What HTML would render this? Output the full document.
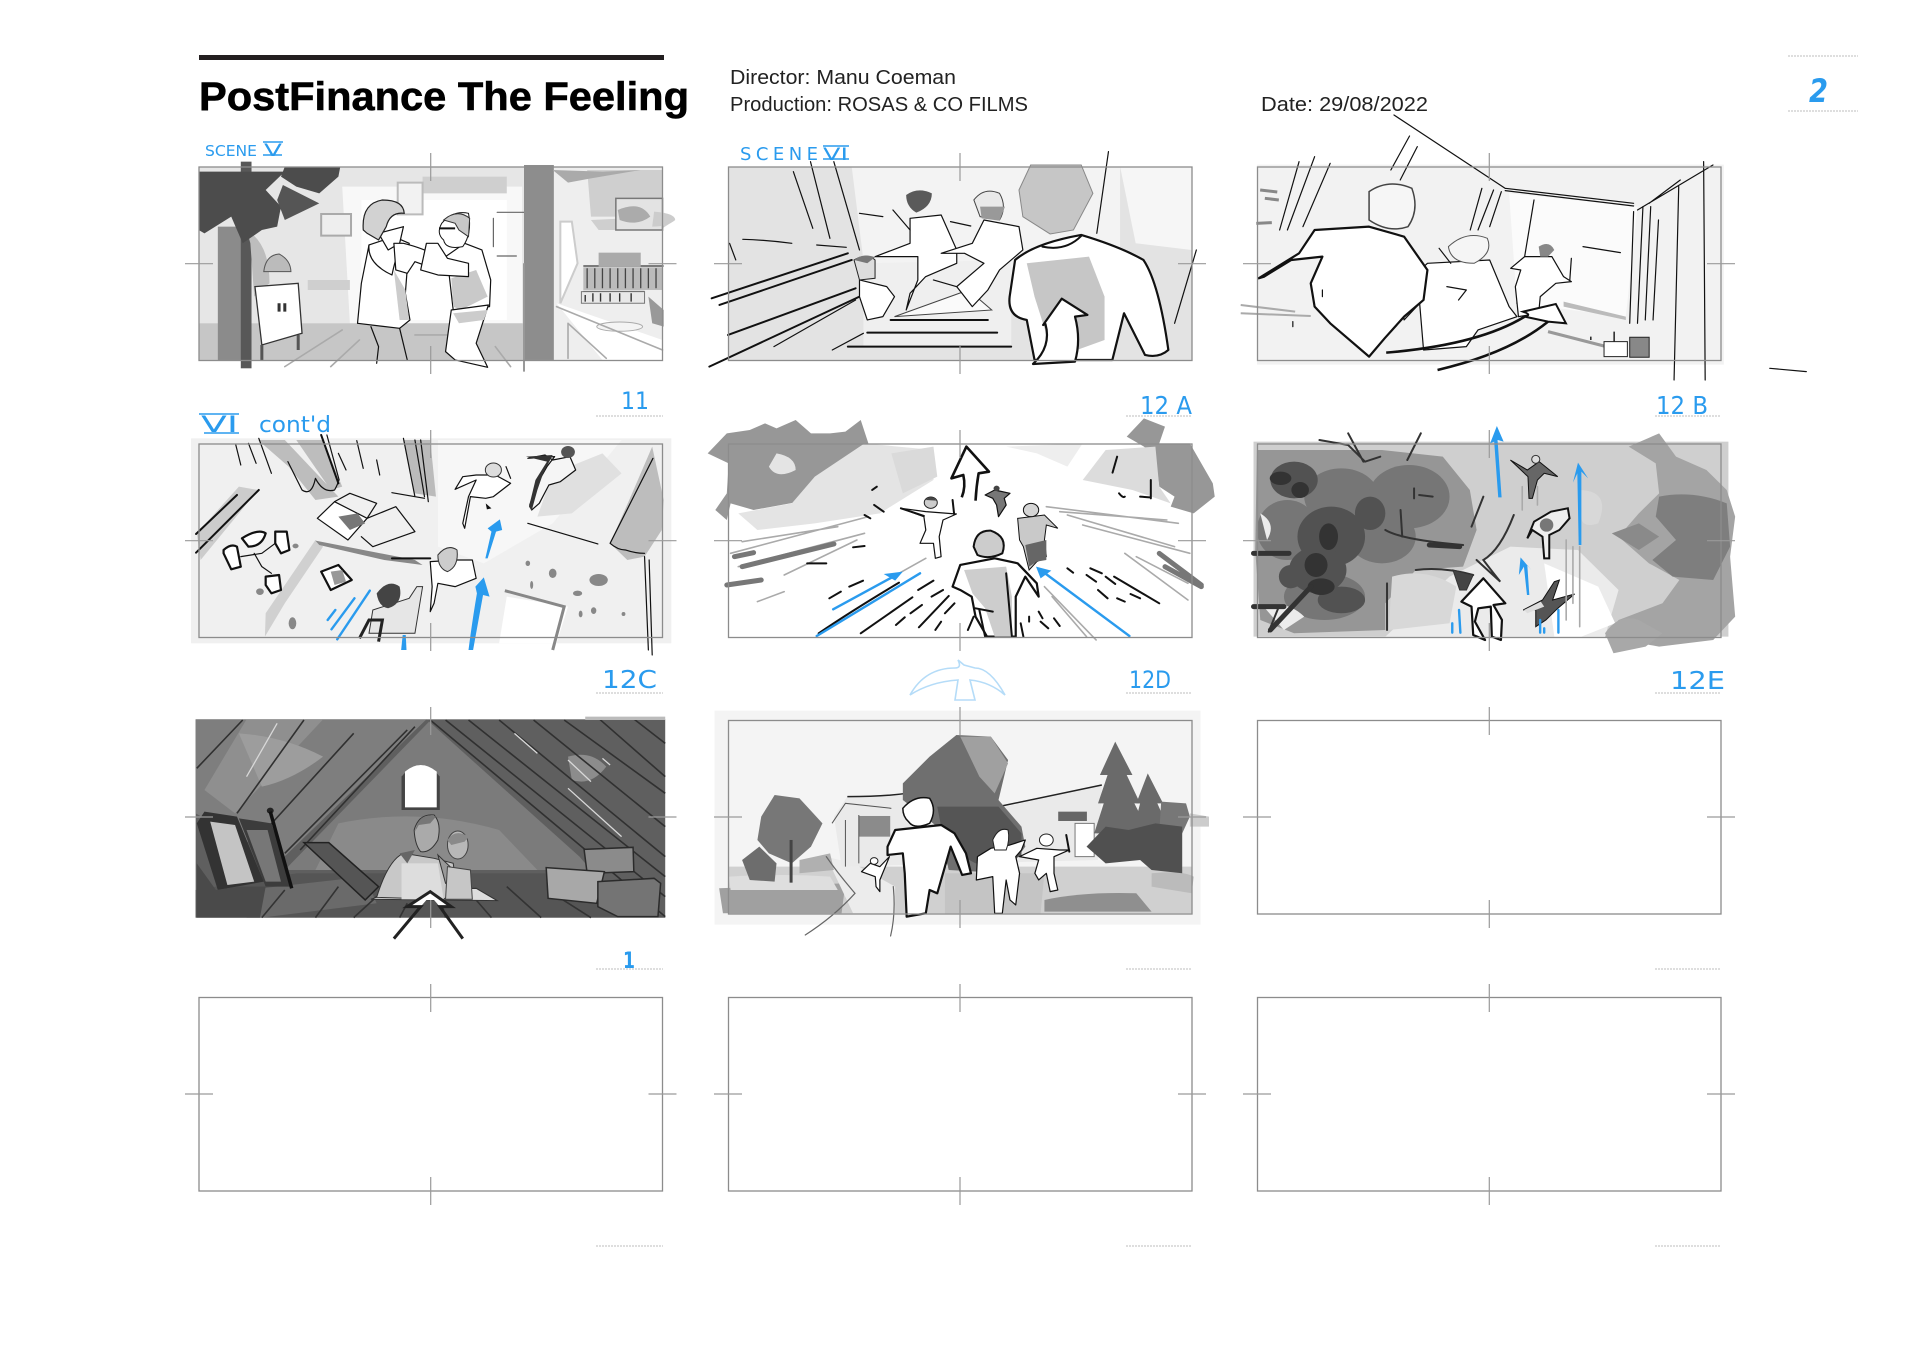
<!DOCTYPE html>
<html lang="en">
<head>
<meta charset="utf-8">
<title>PostFinance The Feeling storyboard</title>
<style>
html,body{margin:0;padding:0;background:#fff;width:1920px;height:1357px;overflow:hidden}
svg{display:block}
.art *{vector-effect:non-scaling-stroke}
.ln{fill:none;stroke:#111;stroke-width:1.2;stroke-linecap:round;stroke-linejoin:round}
.lb{fill:none;stroke:#111;stroke-width:2;stroke-linecap:round;stroke-linejoin:round}
.lg{fill:none;stroke:#aaa;stroke-width:1.6;stroke-linecap:round}
.ld{fill:none;stroke:#666;stroke-width:1.2;stroke-linecap:round}
.ol{fill:#fff;stroke:#111;stroke-width:1.2;stroke-linejoin:round}
.ob{fill:#fff;stroke:#111;stroke-width:2.2;stroke-linejoin:round}
.bl{fill:none;stroke:#2a9bee;stroke-width:2.4;stroke-linecap:round}
.bf{fill:#2a9bee}
.frame{fill:none;stroke:#8c8c8c;stroke-width:1.3}
.tick{stroke:#9a9a9a;stroke-width:1.2}
.cap{stroke:#c9c9c9;stroke-width:1.2;stroke-dasharray:2 1}
.hand{font-family:"DejaVu Sans","Liberation Sans",sans-serif;fill:#2a9bee}
.head{font-family:"Liberation Sans",sans-serif;fill:#222;font-size:20px}
</style>
</head>
<body>
<svg width="1920" height="1357" viewBox="0 0 1920 1357" xmlns="http://www.w3.org/2000/svg">
<rect width="1920" height="1357" fill="#fff"/>

<g>
<rect x="199" y="55" width="465" height="5" fill="#231f20"/>
<text x="199" y="110" font-family="Liberation Sans,sans-serif" font-weight="700" font-size="40" fill="#000" stroke="#000" stroke-width=".6" textLength="490" lengthAdjust="spacingAndGlyphs">PostFinance The Feeling</text>
<text class="head" x="730" y="84" textLength="226" lengthAdjust="spacingAndGlyphs">Director: Manu Coeman</text>
<text class="head" x="730" y="111" textLength="298" lengthAdjust="spacingAndGlyphs">Production: ROSAS &amp; CO FILMS</text>
<text class="head" x="1261" y="111" textLength="167" lengthAdjust="spacingAndGlyphs">Date: 29/08/2022</text>
<line class="cap" x1="1788" y1="56" x2="1858" y2="56"/>
<line class="cap" x1="1788" y1="111" x2="1858" y2="111"/>
<text class="hand" x="1809" y="102" font-size="32" font-style="italic" font-weight="700" textLength="19" lengthAdjust="spacingAndGlyphs">2</text>
</g>

<!-- PANEL 1 -->
<g class="art" transform="translate(170,30) scale(.3827,.3333)">
<rect x="75" y="410" width="1212" height="580" fill="#e6e6e6"/>
<path d="M450 470H920V880H470Z" fill="#f8f8f8"/>
<path d="M500 510H880V870H500Z" fill="#fff"/>
<rect x="75" y="880" width="850" height="110" fill="#c6c6c6"/>
<rect x="1000" y="410" width="287" height="580" fill="#eee"/>
<path d="M1010 820L1287 930V990H1130Z" fill="#fff"/>
<path d="M1090 420H1287V560H1100ZM1100 570L1290 560 1320 570 1280 600H1120Z" fill="#cfcfcf"/>
<path d="M360 750H470V780H360ZM660 440H880V490H660Z" fill="#cfcfcf"/>
<rect x="125" y="590" width="65" height="400" fill="#8b8b8b"/>
<rect x="185" y="395" width="28" height="620" fill="#585858"/>
<path d="M200 600Q260 640 260 760L220 800 210 640Z" fill="#bdbdbd"/>
<path d="M75 425H300L250 480 290 530 280 590 240 600 190 640 160 560 90 610 75 600ZM300 410H445L440 440 390 490 330 470 290 440Z" fill="#4c4c4c"/>
<path d="M295 465L390 520 300 570 280 510Z" fill="#555"/>
<path d="M245 725Q250 675 285 672 315 690 316 725Z" fill="#bbb" stroke="#555"/>
<path d="M222 770L335 760 345 910 240 945Z" fill="#fff" stroke="#333" stroke-width="1.3"/>
<path d="M285 820v25M300 820v25" stroke="#333" stroke-width="3"/>
<path d="M240 945V990M335 915V960" stroke="#555" stroke-width="3"/>
<rect x="395" y="552" width="78" height="65" fill="#eee" stroke="#aaa" stroke-width="2"/>
<rect x="595" y="458" width="65" height="95" fill="#f2f2f2" stroke="#bbb" stroke-width="2"/>
<path d="M300 1010L450 900M420 1010L495 930M640 915H730M850 950L890 1010" class="lg"/>
<path d="M855 547H930M845 565V650M855 678H905" class="ld"/>
<rect x="925" y="405" width="78" height="585" fill="#8d8d8d"/>
<path d="M925 700V1025" stroke="#999" stroke-width="2"/>
<path d="M1000 420L1130 425 1230 420 1100 445 1040 458Z" fill="#aaa"/>
<rect x="1165" y="505" width="122" height="95" fill="#e3e3e3" stroke="#777" stroke-width="1.5"/>
<path d="M1170 540Q1230 510 1255 560 1220 590 1175 570Z" fill="#ababab"/>
<path d="M1265 545Q1320 550 1320 570 1300 590 1260 590Z" fill="#ccc"/>
<path d="M1020 575L1050 575 1065 700 1020 820Z" fill="#fff" stroke="#ccc" stroke-width="2"/>
<rect x="1080" y="712" width="207" height="68" fill="#bbb"/>
<path d="M1090 715v60M1110 715v60M1130 715v60M1150 715v60M1170 715v60M1190 715v60M1210 715v60M1230 715v60M1250 715v60M1270 715v60" stroke="#444" stroke-width="1.3"/>
<path d="M1080 708H1290M1080 785H1240" stroke="#555" stroke-width="1.5"/>
<rect x="1120" y="668" width="110" height="42" fill="#aaa"/>
<rect x="1075" y="785" width="165" height="35" fill="#e8e8e8" stroke="#777"/>
<path d="M1085 795v20M1105 790v25M1125 790v25M1150 790v25M1175 790v25M1205 790v25" stroke="#333" stroke-width="1.4"/>
<ellipse cx="1175" cy="890" rx="60" ry="14" fill="#f4f4f4" stroke="#aaa"/>
<path d="M1040 880L1140 985M1040 880V985M1010 830L1287 960" class="lg"/>
<path d="M1250 800L1290 840V890L1260 880Z" fill="#999"/>
<g>
<path class="ol" d="M520 645L585 620 625 640 615 790 627 870 600 895 490 880 500 760Z"/>
<path d="M585 720L600 870 625 870 615 780Z" fill="#ccc"/>
<path class="ln" d="M520 645Q515 700 580 735 590 680 605 640"/>
<path class="ol" d="M545 610L610 590 600 640 570 660Z"/>
<path d="M505 600Q500 520 555 510 610 510 612 550 575 545 565 590L545 630 515 610Z" fill="#d2d2d2" stroke="#222" stroke-width="1.2"/>
<path class="ol" d="M610 640Q680 660 710 690L700 720 640 695 620 730 590 720 585 640Z"/>
<path class="ln" d="M525 890L545 950 540 1000M600 895L620 990"/>
</g>
<g>
<path class="ol" d="M720 680L770 640 815 660 838 750 835 830 740 840 730 740Z"/>
<path d="M735 745L800 720 830 800 760 840 740 830Z" fill="#c9c9c9"/>
<path class="ol" d="M655 720L670 640 700 640 725 685 780 700 780 740 700 735Z"/>
<path d="M710 580Q740 540 780 550 790 610 765 650 720 660 715 630 695 610 710 580Z" fill="#fff" stroke="#111"/>
<path d="M715 570Q750 535 783 565L780 620 755 600 745 580Z" fill="#c8c8c8" stroke="#333"/>
<path d="M703 595h42" stroke="#111" stroke-width="2"/>
<path class="ol" d="M735 840L832 825 800 940 830 1012 745 990 720 965Z"/>
<path d="M740 850L830 840 820 870 755 880Z" fill="#ccc"/>
</g>
</g>

<!-- PANEL 2 -->
<g class="art" transform="translate(700,30) scale(.778,.3333)">
<rect x="36" y="410" width="596" height="580" fill="#e3e3e3"/>
<path d="M195 410H540V720L420 800 210 690Z" fill="#f3f3f3"/>
<path d="M540 410H632V660L560 640Z" fill="#f6f6f6"/>
<path d="M210 700L400 690 400 950 210 950Z" fill="#efefef"/>
<path class="ln" d="M120 425L145 595M142 395L167 625M172 395L205 660M525 365L510 610M638 660L610 880M205 550L235 560M55 628Q85 630 118 640M322 575L348 588M150 645L188 652M38 640L46 690"/>
<path class="lb" d="M15 805L190 670M25 825L195 690M36 915L200 775M12 1010L205 800"/>
<path class="ln" d="M95 950L200 810M170 960L210 910"/>
<path class="lb" d="M190 950H400M215 908H382M245 870H370"/>
<path d="M250 860L345 780 375 840Z" fill="#fafafa" stroke="#444"/>
<g>
<path class="ol" d="M205 750L240 770 250 800 235 860 215 870 205 800Z"/>
<path d="M198 690Q215 668 225 690L225 745 205 750Z" fill="#ddd" stroke="#222"/>
<path d="M198 690Q210 668 225 682L215 700Z" fill="#777"/>
</g>
<g>
<path class="ol" d="M270 565L310 555 330 660 330 700 290 740 270 790 265 840 280 750 280 680 225 680 270 640Z"/>
<path d="M265 495Q280 470 298 490 298 530 278 548 265 530 265 495Z" fill="#5a5a5a"/>
<path class="ln" d="M248 540L270 600M300 750L330 770 340 780"/>
</g>
<g>
<path class="ol" d="M365 570L410 590 415 660 385 720 370 780 350 830 330 770 365 700 340 670 310 670 350 640Z"/>
<path d="M352 510Q365 470 385 490 395 530 385 570L360 560Z" fill="#e9e9e9" stroke="#444"/>
<path d="M360 530L392 530 385 572 362 565Z" fill="#999"/>
</g>
<g>
<path class="ob" d="M405 690Q430 640 490 615 540 650 570 690 590 760 602 960 590 985 572 975L545 850 530 990H430L420 870Q395 860 398 800Z"/>
<path d="M420 700L500 680 520 800 520 930 455 985 430 800Z" fill="#c6c6c6"/>
<path d="M425 405H490L505 490 480 600 450 612 415 560 410 480Z" fill="#c6c6c6" stroke="#888"/>
<path class="lb" d="M440 650Q470 665 490 618"/>
</g>
<path class="ob" d="M428 1002Q452 950 444 882L441 885 465 806 498 855 482 860Q490 930 482 995Z"/>
</g>

<!-- PANEL 3 -->
<g class="art" transform="translate(700,30) scale(.778,.3333)">
<rect x="716" y="404" width="600" height="600" fill="#f2f2f2"/>
<path d="M1040 490L1205 530 1190 860 1050 820Z" fill="#fbfbfb"/>
<path d="M1110 815L1190 860V870L1110 830Z" fill="#bbb"/>
<path class="ln" d="M770 395L745 600M790 380L755 600M810 400L775 590M912 318L888 420M922 350L900 450M892 255L1035 475M1035 475L1200 520M1035 482L1200 528M1005 475L990 600M1020 480L1000 600M1030 485L1015 590M1205 540L1302 405M1220 520L1260 450M1200 545L1195 880M1212 530L1205 880M1222 530L1215 870M1232 570L1225 870M1258 470L1252 1050M1290 395L1292 1050M1375 1015L1422 1025M1072 510L1050 820M1135 650L1183 668"/>
<path d="M720 480L742 486M726 505L744 510M715 580L735 578" stroke="#888" stroke-width="3"/>
<path d="M695 825L765 845M695 850L785 858" stroke="#aaa" stroke-width="2"/>
<path d="M1090 905L1165 950" stroke="#999" stroke-width="3"/>
<g>
<rect x="1162" y="935" width="30" height="45" fill="#fff" stroke="#222"/>
<rect x="1195" y="922" width="25" height="60" fill="#888" stroke="#222"/>
<path d="M1175 905v30M1145 920v10" stroke="#222" stroke-width="1.5"/>
</g>
<g>
<path class="ol" d="M1060 680L1095 680 1110 740 1120 755 1100 760 1080 800 1078 850 1052 860 1048 770 1055 720 1042 715Z"/>
<path d="M1078 650Q1092 630 1098 660L1090 680 1080 680Z" fill="#888"/>
<path class="ln" d="M1120 685L1118 750"/>
</g>
<g>
<path class="ol" d="M935 700L1015 690 1040 830 1050 860 1000 900 985 950 930 960 925 820 905 870 898 780Z"/>
<path d="M962 650Q985 600 1012 625 1020 670 995 700 965 700 962 650Z" fill="#f5f5f5" stroke="#555"/>
<path class="ln" d="M950 655L965 700M960 770L985 780 975 810"/>
</g>
<g>
<path class="ob" d="M790 600L860 590 905 620 935 720 930 810 905 860 880 925 860 980 810 880 790 830 785 760 800 680 760 690 725 740 718 745 770 670Z"/>
<path d="M860 485Q885 445 915 475 925 540 910 590 885 610 860 570Z" fill="#f6f6f6" stroke="#444" stroke-width="1.5"/>
<path class="ln" d="M800 780V800M762 875V890"/>
</g>
<path d="M882 968Q1000 945 1060 860" fill="none" stroke="#111" stroke-width="2.6"/>
<path d="M948 1020Q1040 970 1090 875" fill="none" stroke="#111" stroke-width="2.6"/>
<path d="M1060 860Q1070 855 1058 845L1100 822 1113 880 1090 875 1060 860Z" fill="#fff" stroke="#111" stroke-width="2"/>
</g>

<!-- PANEL 4 -->
<g class="art" transform="translate(170,390) scale(.3827,.3333)">
<rect x="55" y="145" width="1255" height="615" fill="#f0f0f0"/>
<path d="M700 150H1180L1000 400 820 520 700 470Z" fill="#f7f7f7"/>
<path d="M880 620L1040 650 1010 760H860Z" fill="#fff"/>
<path d="M70 430L180 290 230 300 80 510Z" fill="#ccc"/>
<path d="M230 150L300 150 440 320 380 330 310 230ZM330 150H400L450 290 420 300Z" fill="#bdbdbd"/>
<path d="M610 150H680L695 320 640 310Z" fill="#bbb"/>
<path d="M1260 170L1290 330 1285 420 1240 500 1195 510 1150 460 1200 330Z" fill="#bdbdbd"/>
<path d="M1000 250L1130 190 1180 250 1050 370 960 380Z" fill="#e0e0e0"/>
<path d="M380 450L250 670 248 740 300 640 400 470Z" fill="#d0d0d0"/>
<path d="M380 452L640 510 660 525 560 510 390 465Z" fill="#888"/>
<path class="ln" d="M172 165L185 225M205 160L225 220M232 145L265 250M308 215L345 300Q370 320 380 265 400 310 430 300 440 280 440 270M395 135L440 280M410 135L442 270M440 190L460 240M488 152L505 235M540 210L548 255M610 145L640 320M640 150L665 320M655 150L675 335M580 308L665 325M68 432L175 315M68 488L232 300M935 400L1118 462M1150 460Q1170 480 1190 480 1215 490 1240 490M1150 460L1262 205M1240 500L1250 780M1252 510L1260 795"/>
<path class="lb" d="M395 135L440 280M68 432L175 315M68 488L232 300"/>
<g>
<path class="ol" d="M385 385L430 335 515 385 465 450Z"/>
<path class="ln" d="M430 335L470 310 540 340 515 385M515 385L590 350 640 425 530 470 500 440"/>
<path d="M440 380L490 370 510 400 470 420Z" fill="#777"/>
</g>
<g>
<path class="ob" d="M140 480Q160 460 175 470L185 530 160 538 140 490ZM275 425L305 425 312 480 290 490 275 460ZM250 560L285 555 290 600 265 610 250 585ZM188 445Q230 415 250 430 240 470 205 470Z"/>
<path class="ln" d="M185 500L240 490 275 460M220 490L240 530 265 550"/>
</g>
<path class="ob" d="M395 545L440 525 475 570 420 600Z"/>
<path d="M420 545L450 540 460 575 430 585Z" fill="#999"/>
<g fill="#888">
<ellipse cx="935" cy="520" rx="6" ry="8"/><ellipse cx="1000" cy="550" rx="10" ry="14"/><ellipse cx="1120" cy="570" rx="24" ry="18"/><ellipse cx="945" cy="585" rx="4" ry="12"/><ellipse cx="1065" cy="610" rx="12" ry="8"/><ellipse cx="1073" cy="672" rx="5" ry="10"/><ellipse cx="1107" cy="662" rx="7" ry="10"/><ellipse cx="1185" cy="672" rx="5" ry="6"/><ellipse cx="320" cy="700" rx="10" ry="18"/><ellipse cx="235" cy="605" rx="10" ry="10"/><ellipse cx="328" cy="468" rx="8" ry="7"/>
</g>
<path d="M875 602L1030 650 1000 780" fill="none" stroke="#888" stroke-width="3"/>
<g>
<path class="ol" d="M1000 210L1045 200 1060 240 1020 275 990 285 965 340 945 360 940 345 960 280 985 230 1005 200 935 205 980 195Z" style="fill:#f5f5f5"/>
<path d="M930 200L1000 195 975 250 960 300 945 362 938 350 955 270 985 215Z" fill="#333"/>
<circle cx="1040" cy="186" r="18" fill="#555"/>
</g>
<g>
<path class="ol" d="M800 255L850 255 890 280 845 320 825 325 785 320 770 415 765 400 780 320 800 270 745 298 765 260Z"/>
<circle cx="845" cy="240" r="21" fill="#ddd" stroke="#333"/>
<path class="ln" d="M878 230L890 265"/>
<path d="M825 340l15 15-12 3z" fill="#111"/>
</g>
<g>
<path class="ol" d="M680 515L750 510 790 510 800 565 745 590 700 580 690 640 680 665 685 590Z"/>
<path d="M700 495Q725 460 750 480 755 530 725 545 700 535 700 495Z" fill="#ccc" stroke="#333"/>
<path class="lb" d="M580 505L680 505"/>
</g>
<g>
<path d="M530 660L625 625 645 590 660 590 640 730H520Z" fill="#e6e6e6" stroke="#333"/>
<path d="M540 610Q570 565 600 590 610 640 570 655 545 650 540 610Z" fill="#444"/>
<path d="M495 745L520 690 555 690 545 755" fill="none" stroke="#222" stroke-width="3"/>
</g>
<path class="bl" stroke-width="3" d="M412 690L432 660M422 718L482 625M437 748L522 602"/>
<path class="bf" d="M824 505L840 425 830 415 862 388 868 420 852 425 830 505Z"/>
<path class="bf" d="M780 780Q790 690 802 610L798 590 820 562 835 620 818 615 792 780Z"/>
<path class="bf" d="M604 780L608 735H616L618 780Z"/>
</g>

<!-- PANEL 5 -->
<g class="art" transform="translate(700,390) scale(.3827,.3333)">
<rect x="75" y="160" width="1210" height="580" fill="#fff"/>
<path d="M20 190L70 130 130 120 170 100 200 115 250 90 290 130 340 130 380 125 420 90 440 160 430 220 360 320 260 335 140 360 80 340 70 390 40 360 70 310 75 220Z" fill="#979797"/>
<path d="M200 190Q250 200 250 240 200 270 180 230ZM300 260L430 160 610 180 610 270 470 370 300 400 150 420 100 370 240 340Z" fill="#e4e4e4"/>
<path d="M500 190L610 170 620 260 530 310Z" fill="#dadada"/>
<path d="M800 170L1000 160 960 230 880 190Z" fill="#eee"/>
<path d="M1115 140L1160 85 1215 110 1200 160 1280 160 1340 280 1345 320 1290 370 1230 350 1240 320 1200 290 1190 200 1160 170Z" fill="#979797"/>
<path d="M1000 270L1060 180 1190 170 1200 290 1230 340 1130 300Z" fill="#dcdcdc"/>
<path class="lg" stroke-width="2" d="M80 490L440 380M110 455L360 410M100 530L430 430M220 555L410 450M150 635L220 605M905 350L1250 400M940 365L1220 390M1000 405L1280 490M960 375L1240 470M1110 490L1275 630M1140 500L1275 580M900 590L1035 750M920 620L1010 740M520 550L590 505"/>
<path d="M90 500L140 488M110 530L350 462M70 585L160 570M1200 490L1310 585M1215 530L1310 590" stroke="#777" stroke-width="5" fill="none" stroke-linecap="round"/>
<path class="lb" d="M455 345L480 365M400 472L430 468M280 520L330 520M430 375L445 385M1095 310Q1105 325 1110 320M1150 320L1175 322M1178 270V325M1090 200L1078 248M450 300L462 290"/>
<path class="lb" d="M338 625L368 605M390 590L426 572M960 535L975 548M1020 535L1050 550M1010 555L1035 575M1060 560L1085 582M1040 600L1065 625M1090 625L1110 635M1125 612L1150 625M1082 560L1200 640M512 705L535 682M550 670L580 645M420 730L555 622M572 712L650 618M615 720L630 695M640 670L665 640M570 600L610 572M605 620L635 600M860 680V695M885 665L895 685M890 695L910 715M925 685L940 708M838 700L845 740M700 720L715 680"/>
<path class="lb" d="M310 730Q400 660 520 578"/>
<path class="bl" stroke-width="3" d="M305 738L575 550M348 658L505 560M1122 738L890 540"/>
<path class="bf" d="M480 552L530 545 510 572Z"/>
<path class="bf" d="M878 530L918 542 890 565Z"/>
<path fill="#fff" stroke="#111" stroke-width="2.6" stroke-linejoin="round" d="M684 322Q695 290 688 255L657 265 696 170 755 245 728 250Q722 290 720 332"/>
<g>
<path class="ol" d="M745 315L770 300 810 310 795 325 800 345 780 380 775 345 765 325Z" style="fill:#777"/>
<circle cx="775" cy="295" r="8" fill="#444"/>
</g>
<g>
<path class="ol" d="M525 355L590 365 670 372 635 390 625 440 630 500 615 505 610 460 575 460 590 420 585 380Z"/>
<circle cx="603" cy="338" r="17" fill="#ccc" stroke="#222"/>
<path d="M590 330Q603 312 618 332Z" fill="#444"/>
<path class="lb" d="M660 330L664 372M525 355L585 378"/>
</g>
<g>
<path d="M830 385L900 375 935 415 905 405 900 450 905 500 880 515 860 540 845 470 835 450Z" fill="#c9c9c9" stroke="#111"/>
<circle cx="865" cy="360" r="20" fill="#d5d5d5" stroke="#111"/>
<path d="M850 465L905 450 905 510 880 515 860 530Z" fill="#666"/>
</g>
<g>
<path class="ob" d="M680 525L770 505 830 520 880 580 885 620 850 560 825 620 825 740 750 740 720 680 710 620 680 600 660 590Z" stroke-width="2"/>
<path d="M690 540L800 530 815 620 815 740 770 740 745 655 712 610Z" fill="#cdcdcd"/>
<path d="M715 470Q720 420 760 422 805 440 790 490 755 510 725 495Z" fill="#ccc" stroke="#111" stroke-width="2"/>
<path class="lb" d="M720 655L765 665M730 660L745 740M800 550L815 740"/>
</g>
</g>

<!-- BIRD -->
<path d="M910 695Q925 668 955 668 962 668 958 660L964 665 975 668Q990 668 1005 695 990 682 970 680L975 700 955 700 958 680Q930 682 910 695Z" fill="none" stroke="#b5dcf8" stroke-width="1.6"/>

<!-- PANEL 6 -->
<g class="art" transform="translate(1240,390) scale(.338,.3333)">
<rect x="40" y="155" width="1405" height="585" fill="#cfcfcf"/>
<path d="M430 740L620 560 800 470 1000 480 1120 600 1080 740Z" fill="#ebebeb"/>
<path d="M900 520L1060 590 1110 700 1010 740 930 740Z" fill="#fff"/>
<path d="M1000 300Q1100 300 1060 400 1000 420 1010 360Z" fill="#d8d8d8"/>
<g>
<path d="M50 180H420L600 200 680 300 700 420 660 530 520 540 430 640 430 720 160 730 60 690 45 480Z" fill="#969696"/>
<g fill="#767676">
<ellipse cx="300" cy="320" rx="110" ry="85"/><ellipse cx="500" cy="320" rx="120" ry="95"/><ellipse cx="140" cy="420" rx="90" ry="90"/><ellipse cx="420" cy="440" rx="100" ry="80"/><ellipse cx="250" cy="620" rx="120" ry="70"/>
</g>
<g fill="#525252">
<ellipse cx="160" cy="270" rx="70" ry="55"/><ellipse cx="270" cy="440" rx="100" ry="90"/><ellipse cx="385" cy="370" rx="45" ry="50"/><ellipse cx="230" cy="540" rx="85" ry="70"/><ellipse cx="300" cy="630" rx="70" ry="40"/><ellipse cx="150" cy="560" rx="35" ry="35"/>
</g>
<g fill="#333">
<ellipse cx="120" cy="265" rx="32" ry="20"/><ellipse cx="178" cy="300" rx="26" ry="24"/><ellipse cx="262" cy="440" rx="28" ry="40"/><ellipse cx="225" cy="525" rx="34" ry="36"/><ellipse cx="240" cy="590" rx="40" ry="25"/>
</g>
<path d="M60 370Q110 400 80 450ZM70 650Q140 630 190 680L130 720Z" fill="#ececec"/>
<path d="M450 560Q550 530 640 590L620 700 440 720Z" fill="#d8d8d8"/>
</g>
<g fill="none" stroke="#333" stroke-linecap="round">
<path stroke-width="2" d="M235 150L320 165 370 215 415 200M320 130L365 215M535 130L495 210M115 650L85 725M430 420Q480 450 660 465M475 360L480 440M520 540Q600 530 690 555M435 580V720"/>
<path stroke-width="5" d="M40 490L145 490M40 650L130 650M210 590L90 720M560 465L650 470"/>
<path d="M630 540L690 555 670 600 650 600Z" fill="#444"/>
<path d="M515 295V325M530 315L570 320M720 320L685 410M810 375Q770 480 720 510 750 550 770 575L700 510" stroke-width="2"/>
</g>
<g>
<path d="M1150 170L1240 130 1290 200 1380 240 1440 300 1465 380 1450 500 1465 680 1400 750 1240 770 1080 740 1120 690 1250 640 1300 570 1210 520 1120 440 1180 370 1240 310 1230 220Z" fill="#a4a4a4"/>
<path d="M1240 320Q1340 300 1440 340L1450 470 1400 570 1280 560 1220 510 1290 450 1230 380Z" fill="#7e7e7e"/>
<path d="M1100 430L1180 400 1240 440 1180 480Z" fill="#8a8a8a"/>
<path d="M1080 730Q1120 670 1180 690L1250 730 1200 770 1105 790Z" fill="#a8a8a8"/>
</g>
<g>
<path d="M800 210L850 240 885 215 940 260 900 250 880 270 865 325 855 325 852 260Z" fill="#666" stroke="#111"/>
<circle cx="875" cy="208" r="12" fill="#ddd" stroke="#333"/>
</g>
<g>
<path d="M850 445L870 395 920 365 970 355 975 385 945 420 915 435 915 505 900 505 895 440 865 420Z" fill="#eee" stroke="#111" stroke-width="2"/>
<circle cx="907" cy="405" r="20" fill="#777"/>
</g>
<g>
<path d="M838 660L895 630 930 575 945 570 925 630 990 612 940 655 905 690 875 710 875 660Z" fill="#555" stroke="#111"/>
<path d="M840 660L890 635 900 650 850 670Z" fill="#ddd"/>
</g>
<path class="lg" stroke="#999" d="M835 290V360M880 290V345M965 450V690M985 470V640M1005 470V710"/>
<path class="bf" d="M764 322L752 155 740 160 760 108 780 155 762 150 774 322Z"/>
<path class="bf" d="M1002 465L998 250 985 278 1000 218 1030 265 1010 245 1010 465Z"/>
<path class="bf" d="M849 615L840 530 825 555 830 502 862 540 850 525 856 615Z"/>
<path class="bl" d="M648 660L652 728M628 700V728M888 690V728M942 660V728M900 715V728"/>
<path class="ob" stroke-width="3.5" d="M720 565L785 640 750 645 775 690 772 750 745 740 742 650 705 655 695 695 725 750 690 735 685 650 655 635Z"/>
</g>

<!-- PANEL 7 -->
<g class="art" transform="translate(170,690) scale(.3827,.3333)">
<rect x="67" y="88" width="1227" height="595" fill="#5f5f5f"/>
<path d="M67 88H670L290 510 67 370Z" fill="#7e7e7e"/>
<path d="M200 88L400 88 170 370 90 300Z" fill="#8f8f8f"/>
<path d="M180 130Q300 140 400 200 320 270 240 290 170 220Z" fill="#9d9d9d"/>
<path d="M677 95L1070 500 1100 540H300Z" fill="#7b7b7b"/>
<path d="M440 400Q650 350 860 420L960 540H380Z" fill="#8a8a8a"/>
<path d="M1040 200Q1100 180 1140 230 1100 290 1050 270Z" fill="#8c8c8c"/>
<path d="M67 600L330 550H980L1294 680V683H67Z" fill="#555"/>
<path d="M200 600L510 560 540 640 240 683H200Z" fill="#6a6a6a"/>
<g fill="none" stroke="#303030" stroke-width="1.6">
<path d="M70 235L190 90M175 370L350 90M250 420L480 130M300 490L620 120M340 480L640 110M680 90L1294 680M720 90L1294 620M780 90L1294 560M860 90L1294 500M950 90L1294 410M1030 90L1294 310M1120 85L1294 260M1210 85L1294 160"/>
<path d="M240 683L300 600M380 683L440 590M480 683L540 620M600 683L620 640M720 683L710 640M840 683L800 630M970 683L880 590M1100 683L1000 610" stroke="#333"/>
</g>
<path d="M1085 80H1294V90H1085Z" fill="#bbb"/>
<g stroke="#d8d8d8" stroke-width="1.3"><path d="M900 130L960 190M1040 210L1100 275M1040 295L1180 440M1130 205L1150 225M200 260L280 100"/></g>
<g>
<path d="M605 360V260Q655 190 705 260V360Z" fill="#444"/>
<path d="M614 352V245Q655 205 697 245V352Z" fill="#fff"/>
</g>
<g>
<path d="M70 400L90 365 175 380 245 575 125 600Z" fill="#333"/>
<path d="M105 395L170 405 220 575 150 585Z" fill="#c4c4c4"/>
<path d="M180 385L265 400 320 590 250 590Z" fill="#3c3c3c"/>
<path d="M200 420L255 420 290 575 250 575Z" fill="#777"/>
<circle cx="262" cy="362" r="9" fill="#222"/>
<path d="M262 365L318 595" stroke="#111" stroke-width="3.5"/>
<path d="M70 520L120 600 180 590 250 590 235 683H70Z" fill="#4a4a4a"/>
</g>
<path d="M350 458L415 458 545 590 510 630Z" fill="#555" stroke="#222" stroke-width="1.5"/>
<path d="M525 628L590 600 800 595 855 632Z" fill="#ddd" stroke="#333"/>
<g>
<path d="M540 622Q570 510 610 490L690 505 740 520 750 600 715 628Z" fill="#c8c8c8" stroke="#333"/>
<path d="M605 520L700 520 715 628 605 628Z" fill="#ddd"/>
<path d="M638 420Q650 370 690 375 710 400 700 450 680 490 655 485 640 465 638 420Z" fill="#aaa" stroke="#333"/>
<path d="M640 425Q650 365 695 380L680 400 650 405Z" fill="#777"/>
<path d="M700 495L750 550 755 600 720 580Z" fill="#999" stroke="#333"/>
<path d="M600 490L640 480 620 520Z" fill="#666"/>
</g>
<g>
<path d="M725 530L785 540 790 628H720Z" fill="#c6c6c6" stroke="#444"/>
<ellipse cx="752" cy="465" rx="27" ry="42" fill="#b8b8b8" stroke="#444"/>
<path d="M725 450Q745 415 780 440L770 455 735 465Z" fill="#8a8a8a"/>
</g>
<g stroke="#2b2b2b" stroke-width="1.5">
<path d="M1082 478L1210 472 1212 545 1090 550Z" fill="#8b8b8b"/>
<path d="M983 533L1135 545 1115 640 988 625Z" fill="#a8a8a8"/>
<path d="M1118 575L1265 565 1282 580 1275 680 1170 680 1118 650Z" fill="#747474"/>
</g>
<path d="M620 650L680 605 735 650 705 650 690 630 670 630 655 650Z" fill="#fff"/>
<g fill="none" stroke="#222">
<path d="M585 746L655 650 620 650 680 605 735 650 705 650 765 746" stroke-width="3"/>
</g>
</g>

<!-- PANEL 8 -->
<g class="art" transform="translate(700,660) scale(.3827,.3333)">
<rect x="38" y="152" width="1270" height="642" fill="#f4f4f4"/>
<path d="M75 620H1285V760H75Z" fill="#d0d0d0"/>
<path d="M50 685L380 670 370 760H60Z" fill="#a0a0a0"/>
<path d="M75 650Q220 640 340 650L360 690 80 690Z" fill="#dedede"/>
<path d="M900 720Q1000 695 1140 700L1180 755H900Z" fill="#8f8f8f"/>
<path d="M330 590L400 610 510 680 510 760 400 760Z" fill="#ececec"/>
<path d="M640 640H900L890 760H640Z" fill="#c4c4c4"/>
<path d="M1180 640Q1260 630 1290 650L1285 700 1180 680Z" fill="#bbb"/>
<g>
<path d="M350 470L385 410 560 400 800 440 1050 375 1040 600 370 620Z" fill="#eaeaea"/>
<path d="M385 410Q480 410 540 400M780 440L1050 375" stroke="#222" stroke-width="1.5" fill="none"/>
<rect x="415" y="468" width="82" height="62" fill="#8b8b8b"/>
<rect x="936" y="455" width="75" height="28" fill="#666"/>
<path d="M345 490L380 430 500 445M380 480V620M415 465V610" stroke="#555" fill="none"/>
<rect x="980" y="490" width="50" height="100" fill="#fff" stroke="#777"/>
</g>
<g>
<path d="M530 370L600 290 670 225 760 230 805 300 780 420 840 500 850 560 800 640 650 630 620 500 530 420Z" fill="#6f6f6f"/>
<path d="M680 230L760 230 805 310 770 400 730 350Z" fill="#a0a0a0"/>
<path d="M620 440L780 440 840 520 840 590 720 610 640 560Z" fill="#555"/>
</g>
<g>
<path d="M160 470L195 405 260 415 300 465 320 490 290 560 240 610 180 580 150 540Z" fill="#777"/>
<path d="M110 600L155 560 200 610 195 665 130 660Z" fill="#6d6d6d"/>
<path d="M238 540V668" stroke="#444" stroke-width="3"/>
<path d="M260 600L340 580 350 630 260 640Z" fill="#b0b0b0"/>
</g>
<g>
<path d="M1085 245L1130 345 1115 345 1150 430 1135 430 1175 520 1030 520 1055 430 1040 430 1065 345 1045 345Z" fill="#6a6a6a"/>
<path d="M1170 340L1210 430 1195 430 1230 520 1130 520 1150 430 1140 430Z" fill="#6a6a6a"/>
<path d="M1205 425L1270 430 1280 470 1260 520 1200 520Z" fill="#777"/>
<path d="M1010 560L1060 500 1120 510 1190 490 1260 500 1260 640 1180 630 1150 600 1060 610Z" fill="#505050"/>
<path d="M1280 460L1330 470 1330 500 1280 500Z" fill="#ccc"/>
</g>
<path class="ld" d="M330 590Q360 640 405 700 350 770 275 825M505 680Q512 760 498 828"/>
<g>
<path class="ol" d="M422 635L445 610 470 620 495 590 470 660 470 695 460 680 458 650Z"/>
<circle cx="455" cy="603" r="10" fill="#fff" stroke="#222"/>
</g>
<g>
<path class="ob" d="M510 510L630 495 665 520 695 580 708 640 685 645 655 560 630 660 620 700 600 690 590 760 540 770 535 640 530 580 490 585 490 560Z" stroke-width="1.4"/>
<path d="M530 445Q560 405 600 415 620 450 600 490 560 510 545 485 530 470 530 445Z" fill="#fff" stroke="#111" stroke-width="1.5"/>
</g>
<g>
<path class="ol" d="M760 565L810 555 850 540 840 570 825 590 835 640 825 735 810 720 800 660 790 760 770 760 765 650 722 660 725 590Z"/>
<path d="M765 540Q780 500 805 510 810 540 800 570H770Z" fill="#fff" stroke="#222"/>
</g>
<g>
<path class="ol" d="M880 565L940 570 965 570 925 590 925 640 935 690 915 695 905 640 885 660 875 640 885 600 835 590Z"/>
<circle cx="905" cy="540" r="18" fill="#fff" stroke="#222"/>
<path class="lb" d="M957 525L965 575"/>
</g>
</g>

<!-- FRAMES -->
<g>
<g><rect class="frame" x="199" y="167" width="463.5" height="193.5"/><path class="tick" d="M430.7 153v28M430.7 346v28M185 263.7h28M648.5 263.7h28"/></g>
<g><rect class="frame" x="728.5" y="167" width="463.5" height="193.5"/><path class="tick" d="M960 153v28M960 346v28M714 263.7h28M1178 263.7h28"/></g>
<g><rect class="frame" x="1257.5" y="167" width="463.5" height="193.5"/><path class="tick" d="M1489.3 153v28M1489.3 346v28M1243 263.7h28M1707 263.7h28"/></g>
<g><rect class="frame" x="199" y="444" width="463.5" height="193.5"/><path class="tick" d="M430.7 430v28M430.7 623v28M185 540.7h28M648.5 540.7h28"/></g>
<g><rect class="frame" x="728.5" y="444" width="463.5" height="193.5"/><path class="tick" d="M960 430v28M960 623v28M714 540.7h28M1178 540.7h28"/></g>
<g><rect class="frame" x="1257.5" y="444" width="463.5" height="193.5"/><path class="tick" d="M1489.3 430v28M1489.3 623v28M1243 540.7h28M1707 540.7h28"/></g>
<g><path class="tick" d="M430.7 707v28M430.7 900v28M185 817h28M648.5 817h28"/></g>
<g><rect class="frame" x="728.5" y="720.5" width="463.5" height="193.5"/><path class="tick" d="M960 707v28M960 900v28M714 817h28M1178 817h28"/></g>
<g><rect class="frame" x="1257.5" y="720.5" width="463.5" height="193.5"/><path class="tick" d="M1489.3 707v28M1489.3 900v28M1243 817h28M1707 817h28"/></g>
<g><rect class="frame" x="199" y="997.5" width="463.5" height="193.5"/><path class="tick" d="M430.7 984v28M430.7 1177v28M185 1094h28M648.5 1094h28"/></g>
<g><rect class="frame" x="728.5" y="997.5" width="463.5" height="193.5"/><path class="tick" d="M960 984v28M960 1177v28M714 1094h28M1178 1094h28"/></g>
<g><rect class="frame" x="1257.5" y="997.5" width="463.5" height="193.5"/><path class="tick" d="M1489.3 984v28M1489.3 1177v28M1243 1094h28M1707 1094h28"/></g>
</g>

<!-- CAPTION RULES -->
<g>
<path class="cap" d="M596 416H663M1126 416H1192M1655 416H1721M596 693H663M1126 693H1192M1655 693H1721M596 969H663M1126 969H1192M1655 969H1721M596 1246H663M1126 1246H1192M1655 1246H1721"/>
</g>

<!-- HANDWRITTEN LABELS -->
<g>
<text class="hand" x="205" y="156" font-size="15" textLength="52" lengthAdjust="spacingAndGlyphs">SCENE</text>
<text class="hand" x="264" y="156" font-size="17" textLength="18" lengthAdjust="spacingAndGlyphs">V</text>
<path d="M263 142H283M263 155H282" stroke="#2a9bee" stroke-width="1.5"/>
<text class="hand" x="740" y="160" font-size="18" textLength="78" lengthAdjust="spacing">SCENE</text>
<text class="hand" x="823" y="160" font-size="17" textLength="25" lengthAdjust="spacingAndGlyphs">VI</text>
<path d="M823 146H849M823 159H849" stroke="#2a9bee" stroke-width="1.5"/>
<text class="hand" x="201" y="432" font-size="22" textLength="37" lengthAdjust="spacingAndGlyphs">VI</text>
<path d="M199 414H239M204 433H239" stroke="#2a9bee" stroke-width="1.5"/>
<text class="hand" x="259" y="432" font-size="22" textLength="72" lengthAdjust="spacingAndGlyphs">cont'd</text>
<text class="hand" x="621" y="409" font-size="24" textLength="28" lengthAdjust="spacingAndGlyphs">11</text>
<text class="hand" x="1140" y="414" font-size="25" textLength="52" lengthAdjust="spacingAndGlyphs">12 A</text>
<text class="hand" x="1656" y="414" font-size="25" textLength="52" lengthAdjust="spacingAndGlyphs">12 B</text>
<text class="hand" x="602" y="688" font-size="25" textLength="55" lengthAdjust="spacingAndGlyphs">12C</text>
<text class="hand" x="1129" y="688" font-size="24" textLength="42" lengthAdjust="spacingAndGlyphs">12D</text>
<text class="hand" x="1670" y="689" font-size="25" textLength="55" lengthAdjust="spacingAndGlyphs">12E</text>
<text class="hand" x="623" y="968" font-size="22" font-weight="700" textLength="12" lengthAdjust="spacingAndGlyphs">1</text>
</g>
</svg>
</body>
</html>
